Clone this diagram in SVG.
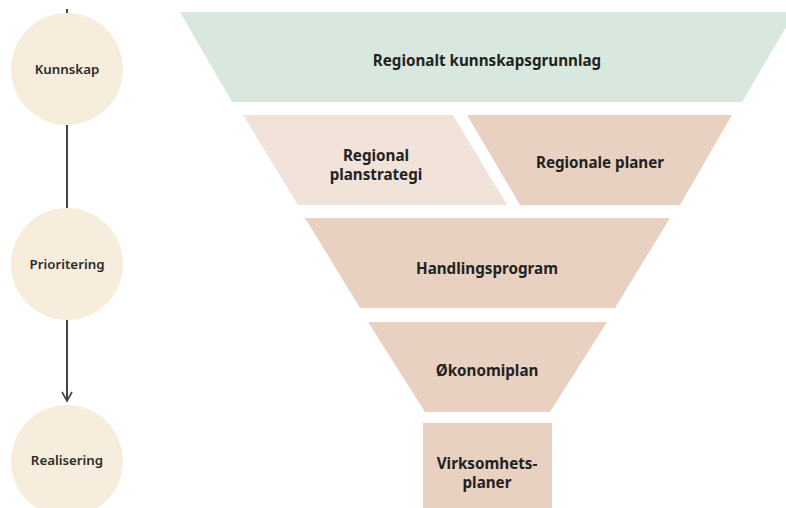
<svg xmlns="http://www.w3.org/2000/svg" width="786" height="508" viewBox="0 0 786 508">
<style>
.circ{fill:#f7eddc}
.clbl{font-family:"Noto Sans","Open Sans",sans-serif;font-weight:600;font-size:13.3px;fill:#2b2b2b;text-anchor:middle;dominant-baseline:central}
.lbl{font-family:"Noto Sans","Open Sans",sans-serif;font-weight:700;font-size:15.2px;fill:#222;text-anchor:middle;dominant-baseline:central}
.green{fill:#d9e8df}
.light{fill:#f1e3da}
.tan{fill:#e8d1c1}
.conn{stroke:#444;stroke-width:2;fill:none}
</style>
<defs>
<marker id="arr" viewBox="0 0 12 12" refX="10" refY="6" markerWidth="12" markerHeight="12" markerUnits="userSpaceOnUse" orient="auto">
<path d="M1,1 L10,6 L1,11" fill="none" stroke="#444" stroke-width="1.6"/>
</marker>
</defs>
<rect width="786" height="508" fill="#fff"/>
<g id="connectors">
<line class="conn" x1="67" y1="9" x2="67" y2="13" stroke-width="1.5"/>
<line class="conn" x1="67" y1="125" x2="67" y2="208"/>
<line class="conn" x1="67" y1="319" x2="67" y2="401" marker-end="url(#arr)"/>
</g>
<g id="kunnskap"><circle class="circ" cx="67" cy="69" r="56"/><text class="clbl" x="67" y="69">Kunnskap</text></g>
<g id="prioritering"><circle class="circ" cx="67" cy="264" r="56"/><text class="clbl" x="67" y="264">Prioritering</text></g>
<g id="realisering"><circle class="circ" cx="67" cy="461" r="56"/><text class="clbl" x="67" y="460">Realisering</text></g>
<g id="kunnskapsgrunnlag"><polygon class="green" points="180,12 795,12 742,102 232,102"/><text class="lbl" x="487" y="60">Regionalt kunnskapsgrunnlag</text></g>
<g id="planstrategi"><polygon class="light" points="243,115 453,115 507,205 298,205"/><text class="lbl" x="376" y="155">Regional</text><text class="lbl" x="376" y="174">planstrategi</text></g>
<g id="regionale-planer"><polygon class="tan" points="467,115 732,115 680,205 520,205"/><text class="lbl" x="600" y="162">Regionale planer</text></g>
<g id="handlingsprogram"><polygon class="tan" points="305,218 670,218 615,308 360,308"/><text class="lbl" x="487" y="268">Handlingsprogram</text></g>
<g id="okonomiplan"><polygon class="tan" points="368,322 607,322 550,412 425,412"/><text class="lbl" x="487" y="370">Økonomiplan</text></g>
<g id="virksomhetsplaner"><rect class="tan" x="423" y="423" width="129" height="90"/><text class="lbl" x="487" y="463">Virksomhets-</text><text class="lbl" x="487" y="482">planer</text></g>
</svg>
